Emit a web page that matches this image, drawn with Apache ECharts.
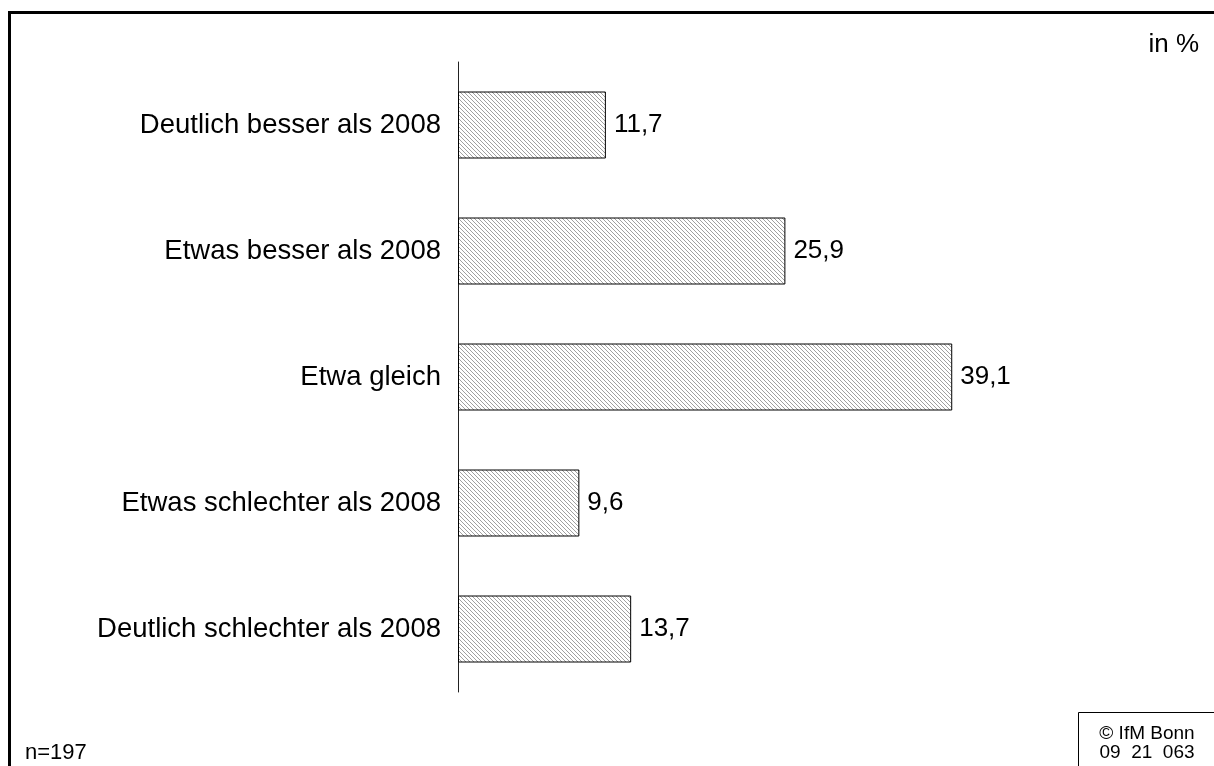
<!DOCTYPE html>
<html>
<head>
<meta charset="utf-8">
<script src="https://cdn.jsdelivr.net/npm/echarts@6/dist/echarts.min.js"></script>
<style>
  html, body { margin: 0; padding: 0; background: #fff; }
</style>
</head>
<body>
<div id="main" style="width: 1214px;height:766px;"></div>
<script type="text/javascript">

    var categories = ['Deutlich besser als 2008', 'Etwas besser als 2008', 'Etwa gleich',
        'Etwas schlechter als 2008', 'Deutlich schlechter als 2008'];
    var values = [11.7, 25.9, 39.1, 9.6, 13.7];
    var unitText = 'in %';
    var sampleText = 'n=197';
    var sourceLines = ['© IfM Bonn', '09  21  063'];

    var FONT = '"Liberation Sans", Arial, sans-serif';

    // diagonal hatch for the bars
    function makeHatch() {
        var c = document.createElement('canvas');
        c.width = 4;
        c.height = 4;
        var ctx = c.getContext('2d');
        ctx.fillStyle = '#ffffff';
        ctx.fillRect(0, 0, 4, 4);
        ctx.strokeStyle = '#a0a0a0';
        ctx.lineWidth = 1;
        ctx.beginPath();
        ctx.moveTo(-1, -1); ctx.lineTo(5, 5);
        ctx.moveTo(-1, 3); ctx.lineTo(1, 5);
        ctx.moveTo(3, -1); ctx.lineTo(5, 1);
        ctx.stroke();
        return c;
    }

    var myChart = echarts.init(document.getElementById('main'));

    var option = {
        backgroundColor: '#ffffff',
        animation: false,
        grid: {
            left: 458,
            top: 62,
            width: 632,
            height: 630
        },
        xAxis: {
            type: 'value',
            min: 0,
            max: 50,
            show: false
        },
        yAxis: {
            type: 'category',
            data: categories,
            inverse: true,
            axisLine: { show: true, lineStyle: { color: '#222', width: 1 } },
            axisTick: { show: false },
            axisLabel: {
                margin: 17,
                color: '#000',
                fontSize: 27.5,
                fontFamily: FONT
            },
            splitLine: { show: false }
        },
        series: [{
            type: 'bar',
            data: values,
            barWidth: 67,
            itemStyle: {
                color: { image: makeHatch(), repeat: 'repeat' },
                borderColor: '#000',
                borderWidth: 1
            },
            label: {
                show: true,
                position: 'right',
                distance: 8,
                color: '#000',
                fontSize: 26,
                fontFamily: FONT,
                formatter: function (p) {
                    return p.value.toFixed(1).replace('.', ',');
                }
            }
        }],
        graphic: [
            {
                type: 'polyline',
                shape: { points: [[9.5, 770], [9.5, 12.5], [1220, 12.5]] },
                style: { stroke: '#000', lineWidth: 3, fill: null }
            },
            {
                type: 'text',
                right: 15,
                top: 32,
                style: { text: unitText, fill: '#000', fontSize: 26, fontFamily: FONT }
            },
            {
                type: 'text',
                left: 25,
                top: 742,
                style: { text: sampleText, fill: '#000', fontSize: 22, fontFamily: FONT }
            },
            {
                type: 'rect',
                shape: { x: 1078.5, y: 712.5, width: 200, height: 100 },
                style: { stroke: '#000', lineWidth: 1, fill: '#fff' }
            },
            {
                type: 'text',
                x: 1147,
                y: 734,
                style: { text: sourceLines[0], fill: '#000', fontSize: 19, fontFamily: FONT,
                    align: 'center', verticalAlign: 'middle' }
            },
            {
                type: 'text',
                x: 1147,
                y: 753,
                style: { text: sourceLines[1], fill: '#000', fontSize: 19, fontFamily: FONT,
                    align: 'center', verticalAlign: 'middle' }
            }
        ]
    };

    myChart.setOption(option);
</script>
</body>
</html>
